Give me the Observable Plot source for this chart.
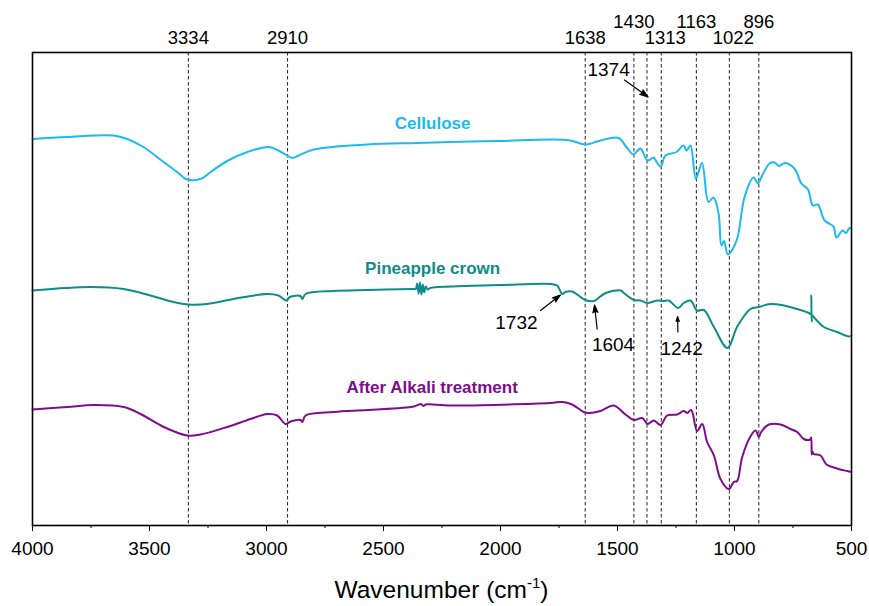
<!DOCTYPE html>
<html><head><meta charset="utf-8">
<script src="https://cdn.jsdelivr.net/npm/d3@7"></script>
<script src="https://cdn.jsdelivr.net/npm/@observablehq/plot@0.6"></script>
<style>
body{margin:0;background:#fff;}
#chart{width:869px;height:606px;}
</style>
</head><body><div id="chart"></div>
<script>
// Wavenumber (cm-1), transmittance (a.u., offset traces)
const cellulose = [
[4000,77.3],[3852,77.7],[3654,78.0],[3595,77.3],[3526,75.7],[3440,72.7],[3382,70.7],[3338,69.2],[3282,69.3],
[3239,70.7],[3168,72.9],[3082,74.7],[2990,75.7],[2949,75.0],[2912,74.0],[2890,73.5],[2862,74.0],[2798,75.2],
[2570,76.2],[2356,76.5],[2214,76.7],[2000,76.9],[1786,77.2],[1701,77.0],[1637,76.2],[1573,77.0],[1496,77.5],
[1462,75.7],[1432,74.2],[1402,75.4],[1372,73.0],[1346,73.6],[1333,72.7],[1316,71.8],[1295,74.0],[1248,74.7],
[1218,76.0],[1205,75.0],[1188,76.0],[1165,69.4],[1139,72.5],[1111,64.7],[1090,65.6],[1068,62.4],[1056,56.0],
[1045,56.9],[1028,54.2],[991,57.0],[957,65.7],[919,69.6],[899,68.4],[885,69.7],[850,72.4],[829,72.6],[809,71.9],
[786,72.5],[744,71.4],[714,68.4],[686,67.2],[665,64.0],[644,64.2],[615,61.0],[577,59.8],[564,57.6],[538,59.0],
[523,58.5],[509,59.5],[500,59.4]
];
const pineappleCrown = [
[4000,47.0],[3752,47.7],[3611,47.3],[3496,46.0],[3397,44.7],[3333,44.2],[3253,44.3],[3141,45.3],[2997,46.3],
[2949,46.0],[2915,45.0],[2900,45.7],[2855,45.9],[2847,45.3],[2833,46.3],[2714,46.9],[2570,47.1],[2372,47.3],
[2362,47.3],[2356,48.4],[2350,46.4],[2344,48.6],[2338,46.2],[2332,48.2],[2326,46.6],[2319,47.8],[2311,47.2],
[2300,47.5],[2214,47.8],[2000,48.1],[1786,48.3],[1758,48.0],[1736,46.3],[1722,46.7],[1694,46.8],[1637,45.1],
[1601,44.9],[1587,45.3],[1550,46.5],[1486,47.0],[1473,46.5],[1430,45.1],[1402,45.0],[1373,44.5],[1330,45.0],
[1302,44.9],[1281,45.0],[1241,43.5],[1217,44.5],[1188,45.0],[1160,43.0],[1131,43.1],[1088,39.7],[1030,35.5],
[989,39.7],[932,43.3],[896,43.7],[846,44.3],[789,44.0],[718,43.1],[682,42.5],[674,42.3],[672,46.0],[670,40.8],
[668,42.0],[654,41.3],[618,39.7],[561,38.7],[512,37.8],[500,38.0]
];
const afterAlkali = [
[4000,23.2],[3852,23.7],[3738,24.1],[3610,23.7],[3538,22.3],[3439,19.7],[3339,18.0],[3282,18.2],[3168,19.7],
[3068,21.3],[2997,22.3],[2954,22.0],[2919,20.3],[2897,20.8],[2855,21.1],[2847,20.7],[2833,22.0],[2712,22.7],
[2570,23.1],[2370,23.8],[2340,24.3],[2329,23.9],[2320,24.2],[2214,24.0],[1786,24.5],[1736,24.7],[1694,24.2],
[1644,22.7],[1623,22.5],[1573,22.9],[1516,24.0],[1466,22.2],[1430,21.1],[1394,21.5],[1371,20.3],[1345,21.0],
[1316,20.1],[1288,22.0],[1245,22.2],[1217,22.9],[1202,22.5],[1185,23.1],[1160,18.9],[1138,20.3],[1117,16.7],
[1088,14.0],[1060,9.3],[1024,7.3],[1003,8.7],[989,8.9],[967,13.7],[932,17.8],[910,19.0],[896,17.7],[886,18.7],
[853,20.2],[803,20.2],[761,19.3],[732,18.7],[704,17.3],[682,17.1],[675,17.3],[672,17.6],[670,14.2],[668,14.8],
[661,14.3],[632,14.0],[607,12.2],[568,11.5],[540,11.1],[518,10.9],[500,10.7]
];

const seriesNames = ["Cellulose", "Pineapple crown", "After Alkali treatment"];
const seriesColors = ["#1DB9F1", "#0E8B8B", "#7E0C8C"];
const seriesLabelX = [2290, 2290, 2292];
const seriesLabelY = [80.4, 51.4, 27.6];

const peaks = [3334, 2910, 1638, 1430, 1374, 1313, 1163, 1022, 896];
const peakLabels = ["3334", "2910", "1638", "1430", "", "1313", "1163", "1022", "896"];
const peakRow = [0, 0, 0, 1, -1, 2, 1, 2, 1];

const annotLabels = ["1374", "1732", "1604", "1242"];
const annotTextX = [1538, 1932, 1519, 1226];
const annotTextY = [90.0, 39.4, 35.0, 34.2];
const arrowFromX = [1470, 1829, 1587, 1242];
const arrowFromY = [89.1, 43.0, 39.3, 38.7];
const arrowToX = [1369, 1744, 1598, 1243];
const arrowToY = [85.7, 46.1, 44.1, 41.8];

const majorTicks = [4000, 3500, 3000, 2500, 2000, 1500, 1000, 500];
const minorTicks = [3750, 3250, 2750, 2250, 1750, 1250, 750];

const lineRows = seriesNames.flatMap((name, i) => ([cellulose, pineappleCrown, afterAlkali][i]).map(([w, t]) => ({name, w, t})));
const seriesLabelRows = seriesNames.map((name, i) => ({name, x: seriesLabelX[i], y: seriesLabelY[i]}));
const peakRows = peaks.map((p, i) => ({p, label: peakLabels[i], row: peakRow[i]}));
const annotRows = annotLabels.map((label, i) => ({label, tx: annotTextX[i], ty: annotTextY[i], x1: arrowFromX[i], y1: arrowFromY[i], x2: arrowToX[i], y2: arrowToY[i]}));

const font = "'Liberation Sans', Arial, Helvetica, sans-serif";

const plot = Plot.plot({
  width: 869,
  height: 606,
  marginLeft: 32,
  marginRight: 18,
  marginTop: 52,
  marginBottom: 81,
  style: {fontFamily: font, fontSize: "19px", color: "black", background: "white", overflow: "visible"},
  x: {domain: [4000, 500]},
  y: {domain: [0, 94.6], axis: null},
  color: {domain: seriesNames, range: seriesColors},
  marks: [
    Plot.ruleX(peaks, {x: d => d, stroke: "#222", strokeWidth: 1, strokeDasharray: "3.5,2.5"}),
    Plot.line(lineRows, {x: "w", y: "t", z: "name", stroke: "name", strokeWidth: 2, strokeLinejoin: "round", curve: "catmull-rom"}),
    Plot.text(seriesLabelRows, {x: "x", y: "y", text: "name", fill: "name", fontWeight: "bold", fontSize: 17}),
    Plot.text(peakRows.filter(d => d.row === 0), {x: "p", text: "label", frameAnchor: "top", lineAnchor: "bottom", dy: -9, fontSize: 18.5}),
    Plot.text(peakRows.filter(d => d.row === 2), {x: "p", text: "label", frameAnchor: "top", lineAnchor: "bottom", dy: -9, dx: 4, fontSize: 18.5}),
    Plot.text(peakRows.filter(d => d.row === 1), {x: "p", text: "label", frameAnchor: "top", lineAnchor: "bottom", dy: -25, fontSize: 18.5}),
    Plot.text(annotRows, {x: "tx", y: "ty", text: "label", lineAnchor: "bottom", fontSize: 19}),
    Plot.arrow(annotRows, {x1: "x1", y1: "y1", x2: "x2", y2: "y2", stroke: "black", fill: "black", strokeWidth: 1.2, headLength: 11, headAngle: 36}),
    Plot.frame({stroke: "black", strokeWidth: 1.6}),
    Plot.axisX({ticks: majorTicks, tickSize: 6, tickPadding: 10, tickFormat: d => String(d), label: null, fontSize: 19}),
    Plot.axisX({ticks: minorTicks, tickSize: 3, tickFormat: () => "", label: null})
  ]
});

document.getElementById("chart").appendChild(plot);

// axis title with superscript
const svg = d3.select(plot);
const title = svg.append("text")
  .attr("x", (32 + 851) / 2)
  .attr("y", 598)
  .attr("text-anchor", "middle")
  .attr("font-family", font)
  .attr("font-size", 24.5)
  .attr("fill", "black");
title.append("tspan").text("Wavenumber (cm");
title.append("tspan").attr("font-size", 15).attr("dy", -10).text("-1");
title.append("tspan").attr("dy", 10).text(")");
</script>
</body></html>
